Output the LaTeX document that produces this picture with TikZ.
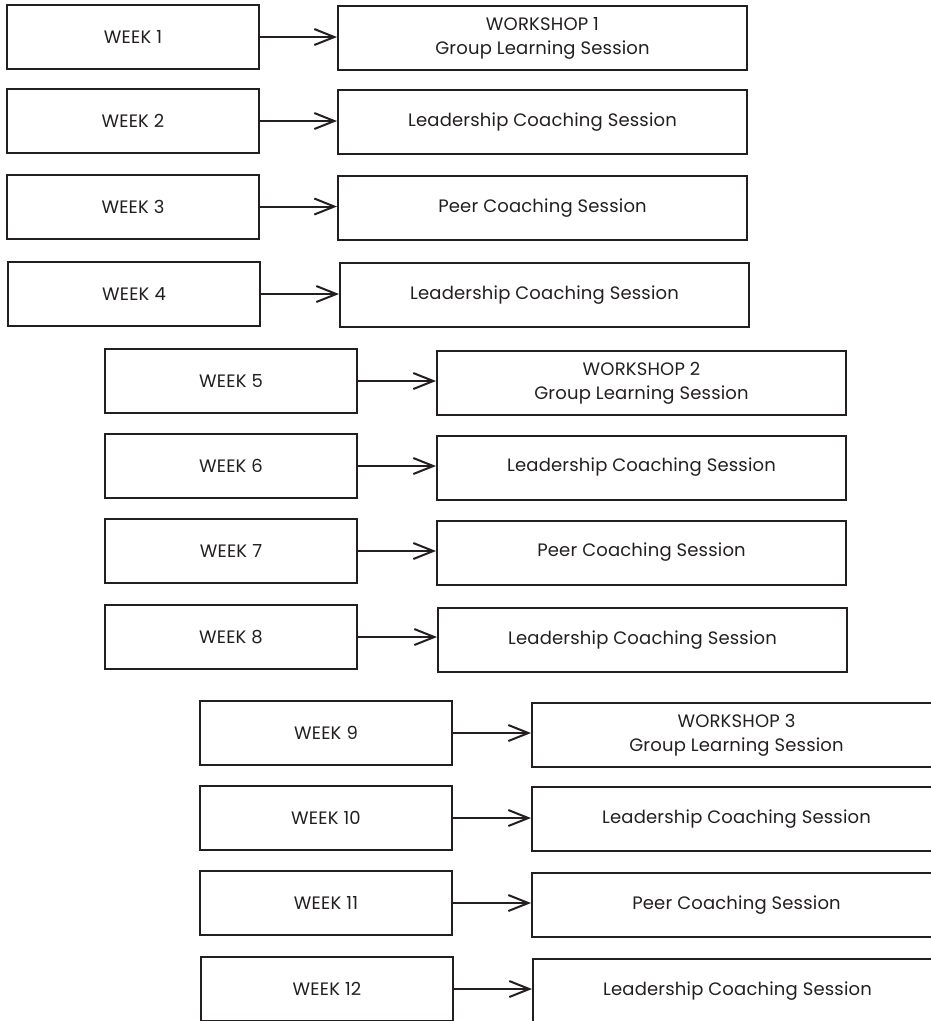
\documentclass[tikz,border=0pt]{standalone}
\usepackage{fontspec}
\setmainfont{Poppins}[LetterSpace=1]
\usetikzlibrary{arrows.meta}
\definecolor{ink}{HTML}{231F20}
\begin{document}
\begin{tikzpicture}[x=1pt,y=-1pt,
  box/.style={draw=ink, line width=2pt, minimum height=64pt, inner sep=0pt, align=center, text=ink, font=\fontsize{18}{24}\selectfont},
  lbox/.style={box, minimum width=252pt},
  rbox/.style={box, minimum width=409pt},
  arr/.style={draw=ink, line width=2pt, -{Straight Barb[length=20pt,width=16pt,line width=2pt]}}]
\useasboundingbox (0,0) rectangle (931,1021);
\clip (0,0) rectangle (931,1021);
\node[lbox] (L1) at (133,37) {WEEK 1};
\node[rbox] (R1) at (542.5,38) {WORKSHOP 1\\Group Learning Session};
\node[lbox] (L2) at (133,121) {WEEK 2};
\node[rbox] (R2) at (542.5,122) {Leadership Coaching Session};
\node[lbox] (L3) at (133,206.5) {WEEK 3};
\node[rbox] (R3) at (542.5,208) {Peer Coaching Session};
\node[lbox] (L4) at (134,294) {WEEK 4};
\node[rbox] (R4) at (544.5,295) {Leadership Coaching Session};
\node[lbox] (L5) at (231,381) {WEEK 5};
\node[rbox] (R5) at (641.5,383) {WORKSHOP 2\\Group Learning Session};
\node[lbox] (L6) at (231,466) {WEEK 6};
\node[rbox] (R6) at (641.5,467.5) {Leadership Coaching Session};
\node[lbox] (L7) at (231,551) {WEEK 7};
\node[rbox] (R7) at (641.5,552.5) {Peer Coaching Session};
\node[lbox] (L8) at (231,637) {WEEK 8};
\node[rbox] (R8) at (642.5,640) {Leadership Coaching Session};
\node[lbox] (L9) at (326,733) {WEEK 9};
\node[rbox] (R9) at (736.5,735) {WORKSHOP 3\\Group Learning Session};
\node[lbox] (L10) at (326,818) {WEEK 10};
\node[rbox] (R10) at (736.5,819) {Leadership Coaching Session};
\node[lbox] (L11) at (326,903) {WEEK 11};
\node[rbox] (R11) at (736.5,905) {Peer Coaching Session};
\node[lbox] (L12) at (327,989) {WEEK 12};
\node[rbox] (R12) at (737.5,991) {Leadership Coaching Session};
\foreach \i in {1,...,12}{
  \draw[arr] (L\i.east) -- (L\i.east -| R\i.west);
}
\end{tikzpicture}
\end{document}
